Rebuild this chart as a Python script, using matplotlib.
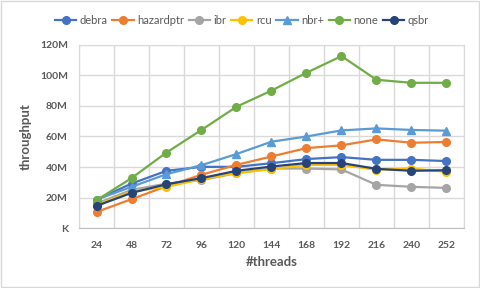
import matplotlib.pyplot as plt
from matplotlib.ticker import FuncFormatter

plt.rcParams["font.family"] = ["Lato", "DejaVu Sans"]

threads = ["24", "48", "72", "96", "120", "144", "168", "192", "216", "240", "252"]

debra = [18.6, 29.1, 37.5, 40.1, 40.1, 42.5, 45.2, 46.5, 44.7, 44.7, 43.9]
hazardptr = [10.5, 18.9, 27.4, 34.9, 41.4, 46.9, 52.4, 54.2, 58.1, 55.9, 56.4]
ibr = [16.0, 25.0, 29.1, 31.4, 36.0, 39.0, 39.0, 38.4, 28.3, 27.0, 26.3]
rcu = [15.0, 24.0, 27.0, 32.0, 36.0, 38.6, 41.4, 41.4, 38.2, 39.0, 36.8]
nbr_plus = [18.6, 27.0, 35.3, 41.2, 48.5, 56.6, 60.0, 64.0, 65.3, 64.3, 63.8]
none = [18.2, 32.7, 49.5, 64.3, 79.5, 90.1, 101.8, 112.7, 97.2, 95.2, 95.2]
qsbr = [14.5, 23.0, 28.7, 32.7, 37.5, 40.3, 42.6, 42.6, 38.8, 37.5, 37.9]

series = [
    ("debra", debra, "#4472C4", "o"),
    ("hazardptr", hazardptr, "#ED7D31", "o"),
    ("ibr", ibr, "#A5A5A5", "o"),
    ("rcu", rcu, "#FFC000", "o"),
    ("nbr+", nbr_plus, "#5B9BD5", "^"),
    ("none", none, "#70AD47", "o"),
    ("qsbr", qsbr, "#264478", "o"),
]

fig = plt.figure(figsize=(4.8, 2.88), dpi=100)
ax = fig.add_axes([0.1646, 0.2083, 0.802, 0.6355])

x = list(range(len(threads)))
for name, vals, color, mk in series:
    ax.plot(x, vals, color=color, marker=mk, markersize=5.5,
            linewidth=1.6, label=name, zorder=3)

ax.set_xlim(-0.5, len(threads) - 0.5)
ax.set_ylim(0, 120)
ax.set_yticks(range(0, 121, 20))
ax.yaxis.set_major_formatter(
    FuncFormatter(lambda v, _: "K" if v == 0 else f"{int(v)}M"))
ax.set_xticks(x)
ax.set_xticklabels(threads)
ax.set_xticks([i - 0.5 for i in range(len(threads) + 1)], minor=True)

ax.grid(True, which="major", axis="y", color="#D9D9D9", linewidth=1)
ax.grid(True, which="minor", axis="x", color="#D9D9D9", linewidth=1)
ax.set_axisbelow(True)
for side in ["top", "right", "left"]:
    ax.spines[side].set_color("#D9D9D9")
ax.spines["bottom"].set_color("#BFBFBF")
ax.tick_params(which="both", length=0)
ax.tick_params(axis="x", pad=9)
ax.tick_params(axis="y", pad=8)

for lbl in ax.get_xticklabels() + ax.get_yticklabels():
    lbl.set_fontsize(7.5)
    lbl.set_fontweight("bold")
    lbl.set_color("#595959")

ax.set_xlabel("#threads", fontsize=9.5, fontweight="bold", color="#595959",
              labelpad=5)
ax.set_ylabel("throughput", fontsize=9.5, fontweight="bold", color="#595959",
              labelpad=6)

fig.legend(loc="center", bbox_to_anchor=(0.504, 0.93), ncol=7, frameon=False,
           fontsize=8, handlelength=1.9, columnspacing=0.45, handletextpad=0.3,
           labelcolor="#595959")

fig.patches.append(plt.Rectangle((0.002, 0.003), 0.996, 0.994,
                                 transform=fig.transFigure, fill=False,
                                 edgecolor="#D9D9D9", linewidth=1))

fig.savefig("out.png", dpi=100)
